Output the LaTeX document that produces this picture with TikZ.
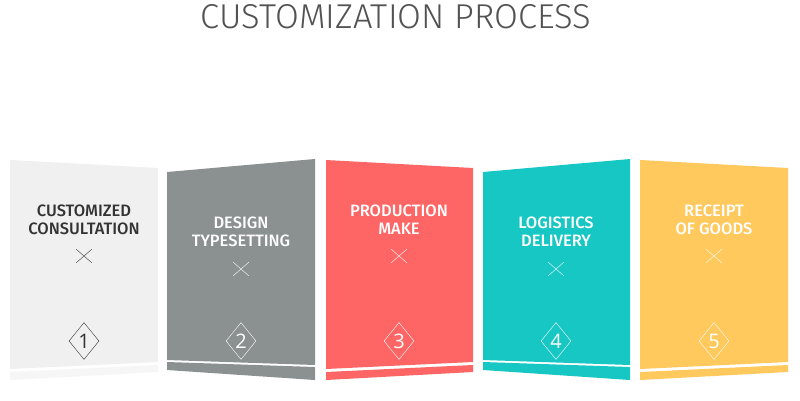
\documentclass[tikz,border=0pt]{standalone}
\usepackage{fontspec}
\setmainfont{Open Sans}
\newfontfamily\titlefont{Fira Sans Light}
\newfontfamily\labelfont{Fira Sans Medium}
\usetikzlibrary{shapes.geometric,shapes.misc}
\definecolor{paleC}{HTML}{F0F0F0}
\definecolor{stoneC}{HTML}{8B9090}
\definecolor{coralC}{HTML}{FE6666}
\definecolor{tealC}{HTML}{17C7C3}
\definecolor{sunC}{HTML}{FFC95E}
\definecolor{inkC}{HTML}{333333}
\begin{document}
\begin{tikzpicture}[
  x=1pt, y=-1pt,
  every node/.style={font=\labelfont\fontsize{16.5}{18}\selectfont},
  label/.style={align=center, inner sep=0pt},
  cross/.style={draw, cross out, thin, minimum width=15pt, minimum height=13pt, inner sep=0pt},
  badge/.style={draw, diamond, thin, minimum width=30pt, minimum height=37pt, inner sep=0pt,
    font=\fontsize{20}{20}\selectfont}
]
\useasboundingbox[fill=white] (0,0) rectangle (800,400);

% title
\node[font=\titlefont\fontsize{34.5}{34.5}\selectfont, text=inkC!85] (title) at (396,17) {CUSTOMIZATION PROCESS};

% panel 1
\fill[paleC] (10,160) -- (158,168) -- (158,362) -- (10,369) -- cycle;
\fill[paleC!60] (10,372) -- (158,365) -- (158,372) -- (10,380) -- cycle;
\node[label, text=inkC] (step1) at (84,220) {CUSTOMIZED\\CONSULTATION};
\node[cross, inkC] (x1) at (84,256) {};
\node[badge, inkC] (n1) at (84,341) {1};

% panel 2
\fill[stoneC] (167,172) -- (315,159) -- (315,365) -- (167,360) -- cycle;
\fill[stoneC] (167,362) -- (315,367) -- (315,380) -- (167,370) -- cycle;
\node[label, text=white] (step2) at (241,232) {DESIGN\\TYPESETTING};
\node[cross, white] (x2) at (241,269) {};
\node[badge, white] (n2) at (241,341) {2};

% panel 3
\fill[coralC] (326,160) -- (473,168) -- (473,362) -- (326,369) -- cycle;
\fill[coralC] (326,372) -- (473,365) -- (473,372) -- (326,380) -- cycle;
\node[label, text=white] (step3) at (399,220) {PRODUCTION\\MAKE};
\node[cross, white] (x3) at (399,256) {};
\node[badge, white] (n3) at (399,341) {3};

% panel 4
\fill[tealC] (483,172) -- (630,159) -- (630,365) -- (483,360) -- cycle;
\fill[tealC] (483,362) -- (630,367) -- (630,380) -- (483,370) -- cycle;
\node[label, text=white] (step4) at (556,232) {LOGISTICS\\DELIVERY};
\node[cross, white] (x4) at (556,269) {};
\node[badge, white] (n4) at (556,341) {4};

% panel 5
\fill[sunC] (640,160) -- (788,168) -- (788,362) -- (640,369) -- cycle;
\fill[sunC] (640,372) -- (788,365) -- (788,372) -- (640,380) -- cycle;
\node[label, text=white] (step5) at (714,220) {RECEIPT\\OF GOODS};
\node[cross, white] (x5) at (714,256) {};
\node[badge, white] (n5) at (714,341) {5};
\end{tikzpicture}
\end{document}
